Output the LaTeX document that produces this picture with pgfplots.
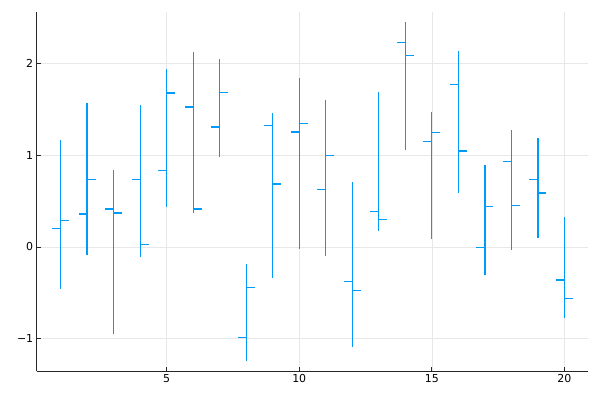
\documentclass[border=0pt]{standalone}
\usepackage{pgfplots}
\pgfplotsset{compat=1.18}
\usepackage{pgfplotstable}
\usepackage{fontspec}
\setmainfont{DejaVu Sans}
\definecolor{ohlc}{RGB}{0,154,250}
\pgfplotstableread{
x open high low close
1 0.200 1.162 -0.454 0.287
2 0.359 1.565 -0.084 0.737
3 0.414 0.835 -0.951 0.370
4 0.737 1.543 -0.113 0.025
5 0.832 1.935 0.436 1.678
6 1.525 2.121 0.374 0.414
7 1.307 2.048 0.977 1.685
8 -0.984 -0.185 -1.245 -0.439
9 1.322 1.460 -0.338 0.686
10 1.253 1.841 -0.025 1.344
11 0.628 1.601 -0.102 0.995
12 -0.374 0.704 -1.086 -0.476
13 0.389 1.685 0.178 0.301
14 2.226 2.455 1.057 2.084
15 1.147 1.474 0.091 1.249
16 1.768 2.131 0.585 1.046
17 -0.004 0.893 -0.309 0.443
18 0.933 1.274 -0.029 0.450
19 0.733 1.184 0.098 0.588
20 -0.359 0.327 -0.770 -0.563
}\data
\begin{document}
\begin{tikzpicture}
\begin{axis}[
  name=ax,
  scale only axis,
  width=551.6bp, height=359.3bp,
  xmin=0.1, xmax=20.9,
  ymin=-1.351, ymax=2.563,
  axis lines=left,
  axis line style={-, draw=black!85, line width=0.9bp},
  xtick={5,10,15,20}, ytick={-1,0,1,2},
  xticklabels={5,10,15,20},
  yticklabels={−1,0,1,2},
  tick align=inside,
  major tick length=4.5bp,
  tick style={draw=black!85, line width=0.8bp},
  grid=major,
  grid style={draw=black!9, line width=0.6bp},
  tick label style={font=\fontsize{11}{13}\selectfont},
]
% high-low vertical lines
\addplot[draw=none, mark=none, forget plot,
  error bars/.cd, y dir=plus, y explicit, error mark=none,
  error bar style={draw=ohlc, line width=1.25bp}]
  table[x=x, y=low, y error expr=\thisrow{high}-\thisrow{low}] {\data};
% open ticks (left)
\addplot[draw=none, mark=none, forget plot,
  error bars/.cd, x dir=minus, x explicit, error mark=none,
  error bar style={draw=ohlc, line width=1.25bp}]
  table[x=x, y=open, x error expr=0.32] {\data};
% close ticks (right)
\addplot[draw=none, mark=none, forget plot,
  error bars/.cd, x dir=plus, x explicit, error mark=none,
  error bar style={draw=ohlc, line width=1.25bp}]
  table[x=x, y=close, x error expr=0.32] {\data};
\end{axis}
\path[use as bounding box] ([shift={(-36.7bp,-29bp)}]ax.south west) rectangle ([shift={(11.7bp,11.7bp)}]ax.north east);
\end{tikzpicture}
\end{document}
